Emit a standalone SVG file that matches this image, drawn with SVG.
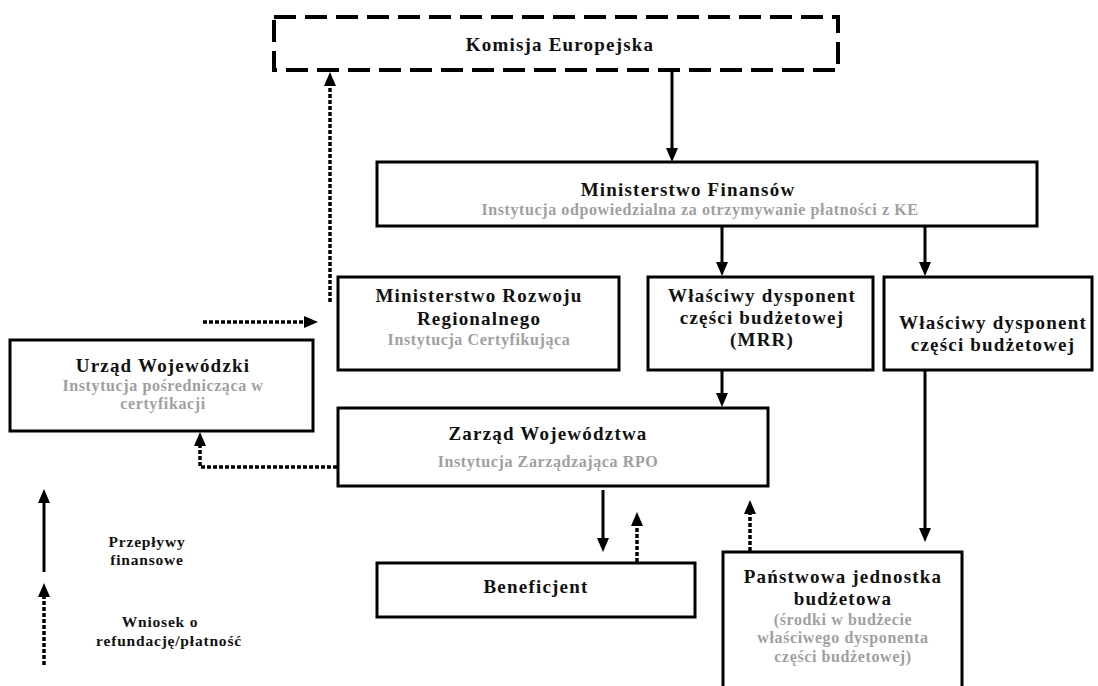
<svg xmlns="http://www.w3.org/2000/svg" width="1098" height="686" viewBox="0 0 1098 686">
<style>
.box{fill:#fff;stroke:#000;stroke-width:3}
.t{font-family:"Liberation Serif","Times New Roman",serif;font-weight:bold;font-size:19px;letter-spacing:1.2px;fill:#111;text-anchor:middle}
.s{font-family:"Liberation Serif","Times New Roman",serif;font-weight:bold;font-size:16px;letter-spacing:0.6px;fill:#9f9f9f;text-anchor:middle}
.l{font-family:"Liberation Serif","Times New Roman",serif;font-weight:bold;font-size:15.5px;letter-spacing:0.8px;fill:#111;text-anchor:middle}
.sol{fill:none;stroke:#000;stroke-width:3}
.dot{fill:none;stroke:#000;stroke-width:3.5;stroke-dasharray:4 2}
</style>
<defs>
<marker id="ah" viewBox="0 0 14 12" refX="0" refY="6" markerWidth="14" markerHeight="12" markerUnits="userSpaceOnUse" orient="auto">
<path d="M0,0 L14,6 L0,12 z" fill="#000"/>
</marker>
</defs>
<rect width="1098" height="686" fill="#fff"/>

<g id="komisja">
<rect x="274" y="17" width="564" height="53" fill="#fff" stroke="#000" stroke-width="4" stroke-dasharray="22 9"/>
<text class="t" x="560" y="51">Komisja Europejska</text>
</g>

<g id="mf">
<rect class="box" x="377" y="162" width="660" height="64"/>
<text class="t" x="688" y="196">Ministerstwo Finansów</text>
<text class="s" x="700" y="215">Instytucja odpowiedzialna za otrzymywanie płatności z KE</text>
</g>

<g id="mrr">
<rect class="box" x="338" y="277" width="281" height="93"/>
<text class="t" x="479" y="302">Ministerstwo Rozwoju</text>
<text class="t" x="479" y="325">Regionalnego</text>
<text class="s" x="479" y="345">Instytucja Certyfikująca</text>
</g>

<g id="dysp-mrr">
<rect class="box" x="648" y="277" width="225" height="93"/>
<text class="t" x="762" y="302">Właściwy dysponent</text>
<text class="t" x="762" y="324">części budżetowej</text>
<text class="t" x="762" y="346">(MRR)</text>
</g>

<g id="dysp">
<rect class="box" x="884" y="277" width="208" height="93"/>
<text class="t" x="993" y="329">Właściwy dysponent</text>
<text class="t" x="993" y="351">części budżetowej</text>
</g>

<g id="urzad">
<rect class="box" x="10" y="340" width="303" height="91"/>
<text class="t" x="163" y="372">Urząd Wojewódzki</text>
<text class="s" x="163" y="391">Instytucja pośrednicząca w</text>
<text class="s" x="163" y="409">certyfikacji</text>
</g>

<g id="zarzad">
<rect class="box" x="338" y="408" width="430" height="78"/>
<text class="t" x="548" y="440">Zarząd Województwa</text>
<text class="s" x="548" y="467">Instytucja Zarządzająca RPO</text>
</g>

<g id="beneficjent">
<rect class="box" x="377" y="563" width="318" height="54"/>
<text class="t" x="536" y="593">Beneficjent</text>
</g>

<g id="panstwowa">
<rect class="box" x="723" y="552" width="239" height="150"/>
<text class="t" x="843" y="583">Państwowa jednostka</text>
<text class="t" x="843" y="605">budżetowa</text>
<text class="s" x="843" y="625">(środki w budżecie</text>
<text class="s" x="843" y="643">właściwego dysponenta</text>
<text class="s" x="843" y="662">części budżetowej)</text>
</g>

<g id="connectors">
<line class="sol" x1="672" y1="71" x2="672" y2="148" marker-end="url(#ah)"/>
<line class="sol" x1="722" y1="227" x2="722" y2="262" marker-end="url(#ah)"/>
<line class="sol" x1="925" y1="227" x2="925" y2="262" marker-end="url(#ah)"/>
<line class="sol" x1="722" y1="371" x2="722" y2="393" marker-end="url(#ah)"/>
<line class="sol" x1="925" y1="371" x2="925" y2="528" marker-end="url(#ah)"/>
<line class="sol" x1="603" y1="490" x2="603" y2="538" marker-end="url(#ah)"/>
<line class="dot" x1="637" y1="562" x2="637" y2="526" marker-end="url(#ah)"/>
<line class="dot" x1="750" y1="551" x2="750" y2="514" marker-end="url(#ah)"/>
<path class="dot" d="M337,467 H200 V446" marker-end="url(#ah)"/>
<line class="dot" x1="203" y1="322" x2="304" y2="322" marker-end="url(#ah)"/>
<line class="dot" x1="330" y1="302" x2="330" y2="86" marker-end="url(#ah)"/>
</g>

<g id="legend">
<line class="sol" x1="44" y1="572" x2="44" y2="503" marker-end="url(#ah)"/>
<line class="dot" x1="44" y1="665" x2="44" y2="597" marker-end="url(#ah)"/>
<text class="l" x="147" y="547">Przepływy</text>
<text class="l" x="147" y="565">finansowe</text>
<text class="l" x="160" y="627">Wniosek o</text>
<text class="l" x="169" y="646">refundację/płatność</text>
</g>
</svg>
